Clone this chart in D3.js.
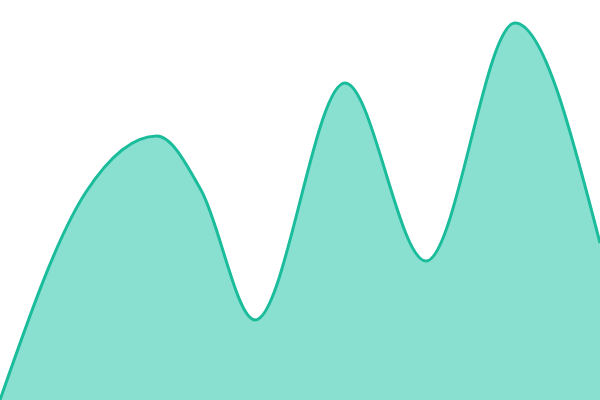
<!DOCTYPE html>
<html>
<head>
<meta charset="utf-8">
<script src="https://cdn.jsdelivr.net/npm/d3@7"></script>
<style>
  html, body { margin: 0; padding: 0; background: #fff; }
  svg { display: block; }
</style>
</head>
<body>
<svg width="600" height="400"></svg>
<script>
"use strict";
// points (x in 0..600, value in 0..400)
var xs = [0, 86, 157, 201, 255, 345, 426, 515, 600];
var values = [0, 208, 264, 210, 80, 317, 139, 377, 157];

var svg = d3.select('svg');
var width = Number(svg.attr('width'));
var height = Number(svg.attr('height'));

var data = xs.map(function (x, i) { return { x: x, v: values[i] }; });

var x = d3.scaleLinear().domain([0, 600]).range([0, width]);
var y = d3.scaleLinear().domain([0, 400]).range([height, 0]);

// area under the curve
var area = d3.area()
    .curve(d3.curveMonotoneX)
    .x(function (d) { return x(d.x); })
    .y0(height)
    .y1(function (d) { return y(d.v); });

// outline on top
var line = d3.line()
    .curve(d3.curveMonotoneX)
    .x(function (d) { return x(d.x); })
    .y(function (d) { return y(d.v); });

svg.append('path')
    .datum(data)
    .attr('d', area)
    .attr('fill', '#8ae0d0');

svg.append('path')
    .datum(data)
    .attr('d', line)
    .attr('fill', 'none')
    .attr('stroke', '#1abc9c')
    .attr('stroke-width', 3);
</script>
</body>
</html>
